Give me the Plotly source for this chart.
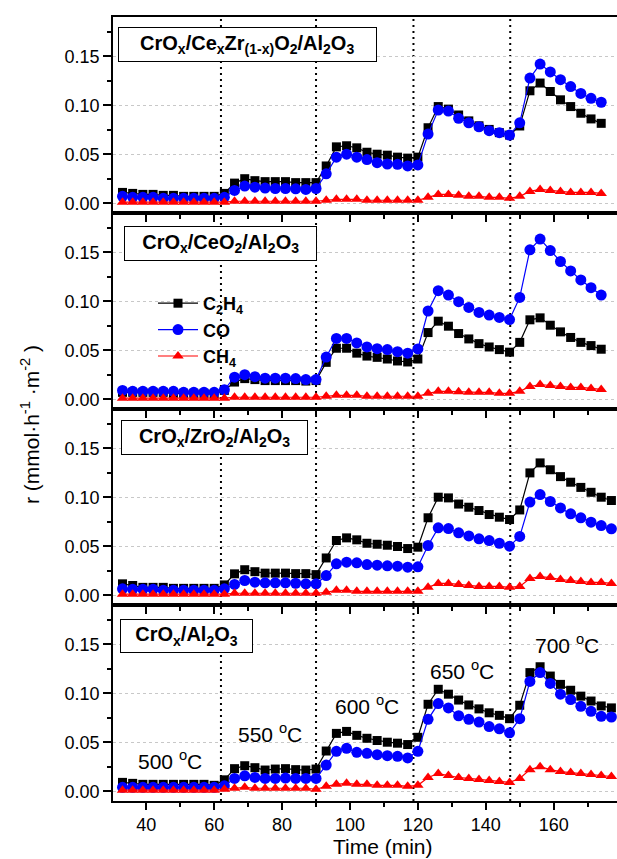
import plotly.graph_objects as go

# ---------------- data ----------------
time_a = [33, 36, 39, 42, 45, 48, 51, 54, 57, 60, 63, 66, 69, 72, 75, 78, 81, 84, 87, 90,
          93, 96, 99, 102, 105, 108, 111, 114, 117, 120, 123, 126, 129, 132, 135, 138, 141, 144, 147,
          150, 153, 156, 159, 162, 165, 168, 171, 174]
time_b = time_a + [177]

# Panel 1: CrOx/CexZr(1-x)O2/Al2O3
p1_c2h4 = [0.011, 0.010, 0.009, 0.009, 0.008, 0.008, 0.007, 0.007, 0.007, 0.007, 0.010,
           0.0205, 0.025, 0.023, 0.022, 0.022, 0.022, 0.021, 0.021, 0.021,
           0.038, 0.0575, 0.0586, 0.0565, 0.052, 0.050, 0.049, 0.047, 0.046, 0.047,
           0.077, 0.0986, 0.096, 0.090, 0.084, 0.079, 0.0753, 0.072, 0.0695,
           0.0788, 0.1147, 0.1226, 0.114, 0.1055, 0.0986, 0.0918, 0.086, 0.0815]
p1_co = [0.007, 0.006, 0.006, 0.006, 0.005, 0.005, 0.005, 0.005, 0.005, 0.005, 0.006,
         0.013, 0.0175, 0.0164, 0.0154, 0.015, 0.015, 0.0147, 0.014, 0.015,
         0.030, 0.047, 0.050, 0.047, 0.0445, 0.0414, 0.040, 0.0397, 0.038, 0.039,
         0.0705, 0.095, 0.094, 0.0866, 0.082, 0.078, 0.074, 0.072, 0.0695,
         0.082, 0.1277, 0.142, 0.134, 0.126, 0.119, 0.112, 0.107, 0.103]
p1_ch4 = [0.001, 0.001, 0.001, 0.001, 0.001, 0.001, 0.001, 0.001, 0.001, 0.001, 0.001,
          0.002, 0.002, 0.002, 0.002, 0.002, 0.002, 0.002, 0.002, 0.002,
          0.003, 0.004, 0.004, 0.004, 0.003, 0.003, 0.003, 0.003, 0.003, 0.003,
          0.006, 0.009, 0.009, 0.008, 0.007, 0.007, 0.006, 0.006, 0.005,
          0.007, 0.012, 0.014, 0.013, 0.012, 0.011, 0.011, 0.011, 0.010]

# Panel 2: CrOx/CeO2/Al2O3
p2_c2h4 = [0.007, 0.007, 0.007, 0.007, 0.007, 0.006, 0.006, 0.006, 0.006, 0.0055, 0.009,
           0.0175, 0.021, 0.020, 0.019, 0.019, 0.019, 0.019, 0.0185, 0.019,
           0.0376, 0.052, 0.052, 0.047, 0.044, 0.0427, 0.041, 0.039, 0.038, 0.041,
           0.068, 0.0796, 0.0745, 0.067, 0.0615, 0.0567, 0.0533, 0.0506, 0.048,
           0.058, 0.081, 0.083, 0.0755, 0.0687, 0.063, 0.058, 0.0547, 0.051]
p2_co = [0.009, 0.008, 0.008, 0.008, 0.008, 0.008, 0.007, 0.007, 0.007, 0.007, 0.0096,
         0.0225, 0.025, 0.023, 0.0215, 0.0215, 0.0215, 0.021, 0.020, 0.020,
         0.043, 0.062, 0.062, 0.0574, 0.0533, 0.0516, 0.0506, 0.0485, 0.047, 0.0513,
         0.090, 0.1107, 0.1063, 0.0995, 0.0936, 0.0885, 0.0858, 0.0834, 0.0813,
         0.1039, 0.1524, 0.1634, 0.1517, 0.1405, 0.1309, 0.1217, 0.1138, 0.1063]
p2_ch4 = [0.001, 0.001, 0.001, 0.001, 0.001, 0.001, 0.001, 0.001, 0.001, 0.001, 0.001,
          0.002, 0.002, 0.002, 0.002, 0.002, 0.002, 0.002, 0.002, 0.002,
          0.003, 0.004, 0.004, 0.004, 0.003, 0.003, 0.003, 0.003, 0.003, 0.003,
          0.006, 0.008, 0.008, 0.0075, 0.007, 0.007, 0.007, 0.006, 0.006,
          0.008, 0.013, 0.015, 0.014, 0.013, 0.012, 0.012, 0.011, 0.010]

# Panel 3: CrOx/ZrO2/Al2O3
p3_c2h4 = [0.0116, 0.0099, 0.008, 0.008, 0.008, 0.007, 0.007, 0.007, 0.007, 0.007, 0.0105,
           0.0218, 0.026, 0.024, 0.0225, 0.0225, 0.0225, 0.022, 0.022, 0.021,
           0.038, 0.0558, 0.0585, 0.0565, 0.053, 0.052, 0.051, 0.0497, 0.0476, 0.049,
           0.079, 0.100, 0.0993, 0.093, 0.0898, 0.0864, 0.0823, 0.0796, 0.0772,
           0.087, 0.1248, 0.135, 0.128, 0.121, 0.1153, 0.110, 0.105, 0.100, 0.0966]
p3_co = [0.0065, 0.006, 0.006, 0.006, 0.005, 0.005, 0.005, 0.005, 0.005, 0.005, 0.0065,
         0.011, 0.015, 0.0133, 0.0126, 0.0126, 0.0126, 0.0122, 0.0116, 0.0116,
         0.020, 0.032, 0.0337, 0.033, 0.0313, 0.0306, 0.030, 0.0296, 0.0286, 0.029,
         0.0507, 0.0687, 0.068, 0.0636, 0.0605, 0.0575, 0.0558, 0.053, 0.050,
         0.060, 0.095, 0.1027, 0.0956, 0.089, 0.083, 0.079, 0.0745, 0.071, 0.0677]
p3_ch4 = [0.001, 0.001, 0.001, 0.001, 0.001, 0.001, 0.001, 0.001, 0.001, 0.001, 0.001,
          0.002, 0.002, 0.002, 0.002, 0.002, 0.002, 0.002, 0.002, 0.002,
          0.003, 0.005, 0.005, 0.004, 0.004, 0.004, 0.004, 0.004, 0.004, 0.004,
          0.008, 0.012, 0.012, 0.011, 0.010, 0.009, 0.009, 0.009, 0.008,
          0.009, 0.017, 0.019, 0.018, 0.016, 0.015, 0.014, 0.013, 0.013, 0.012]

# Panel 4: CrOx/Al2O3
p4_c2h4 = [0.009, 0.008, 0.007, 0.007, 0.007, 0.007, 0.007, 0.007, 0.007, 0.006, 0.0116,
           0.023, 0.026, 0.024, 0.0216, 0.0226, 0.023, 0.022, 0.0216, 0.0226,
           0.041, 0.059, 0.061, 0.057, 0.054, 0.0517, 0.050, 0.049, 0.0476, 0.055,
           0.0887, 0.104, 0.099, 0.093, 0.088, 0.084, 0.080, 0.0774, 0.074,
           0.0877, 0.121, 0.127, 0.1175, 0.109, 0.103, 0.097, 0.092, 0.087, 0.085]
p4_co = [0.004, 0.004, 0.004, 0.004, 0.004, 0.004, 0.004, 0.004, 0.004, 0.004, 0.0055,
         0.013, 0.0157, 0.014, 0.013, 0.013, 0.0134, 0.013, 0.013, 0.013,
         0.0267, 0.0407, 0.0438, 0.0397, 0.0387, 0.0373, 0.0363, 0.0356, 0.034, 0.0407,
         0.0733, 0.0894, 0.085, 0.077, 0.0733, 0.0705, 0.066, 0.0637, 0.0596,
         0.074, 0.112, 0.121, 0.110, 0.099, 0.0935, 0.0866, 0.0815, 0.0764, 0.0757]
p4_ch4 = [0.001, 0.001, 0.001, 0.001, 0.001, 0.001, 0.001, 0.001, 0.001, 0.001, 0.002,
          0.003, 0.004, 0.003, 0.003, 0.003, 0.003, 0.003, 0.003, 0.002,
          0.005, 0.007, 0.008, 0.007, 0.007, 0.006, 0.006, 0.006, 0.005, 0.006,
          0.014, 0.018, 0.016, 0.014, 0.013, 0.012, 0.011, 0.010, 0.009,
          0.013, 0.022, 0.025, 0.022, 0.020, 0.019, 0.018, 0.017, 0.016, 0.015]

panel_labels = ["CrO<sub>x</sub>/Ce<sub>x</sub>Zr<sub>(1-x)</sub>O<sub>2</sub>/Al<sub>2</sub>O<sub>3</sub>",
                "CrO<sub>x</sub>/CeO<sub>2</sub>/Al<sub>2</sub>O<sub>3</sub>",
                "CrO<sub>x</sub>/ZrO<sub>2</sub>/Al<sub>2</sub>O<sub>3</sub>",
                "CrO<sub>x</sub>/Al<sub>2</sub>O<sub>3</sub>"]
series_names = ["C<sub>2</sub>H<sub>4</sub>", "CO", "CH<sub>4</sub>"]
switch_times = [62, 90, 118.7, 147.2]
temp_labels = ["500 <sup>o</sup>C", "550 <sup>o</sup>C", "600 <sup>o</sup>C", "650 <sup>o</sup>C", "700 <sup>o</sup>C"]
temp_x = [47, 76.5, 105, 133, 164]
temp_y = [0.032, 0.059, 0.088, 0.124, 0.150]

panels = [
    (time_a, p1_c2h4, p1_co, p1_ch4),
    (time_a, p2_c2h4, p2_co, p2_ch4),
    (time_b, p3_c2h4, p3_co, p3_ch4),
    (time_b, p4_c2h4, p4_co, p4_ch4),
]

# ---------------- layout geometry ----------------
W, H = 617, 859
ML, MR, MT, MB = 113, 0, 17, 58
PW = W - ML - MR
PH = H - MT - MB

def px_x(p):
    return (p - ML) / PW

def px_y(p):
    return 1 - (p - MT) / PH

FONT = "Liberation Sans, Arial, sans-serif"
colors = ["black", "#0000ff", "#ff0000"]
symbols = ["square", "circle", "triangle-up"]
sizes = [9, 11, 10]

fig = go.Figure()
for i, (t, a, b, c) in enumerate(panels):
    k = "" if i == 0 else str(i + 1)
    for j, ys in enumerate([a, b, c]):
        fig.add_trace(go.Scatter(
            x=t, y=ys, mode="lines+markers", name=series_names[j],
            xaxis="x" + k, yaxis="y" + k,
            line=dict(color=colors[j], width=1.2),
            marker=dict(symbol=symbols[j], size=sizes[j], color=colors[j]),
            legendgroup=series_names[j], showlegend=(i == 1),
        ))

layout = dict(
    width=W, height=H,
    margin=dict(l=ML, r=MR, t=MT, b=MB),
    paper_bgcolor="white", plot_bgcolor="white",
    font=dict(family=FONT, size=18, color="black"),
    showlegend=True,
    legend=dict(x=px_x(153), y=px_y(285), xanchor="left", yanchor="top",
                bgcolor="rgba(0,0,0,0)", borderwidth=0, itemwidth=40,
                font=dict(family=FONT, size=18, color="black", weight="bold"),
                tracegroupgap=0),
)
xr = [30.2, 178.65]
for i in range(4):
    k = "" if i == 0 else str(i + 1)
    d0 = 0.75 - 0.25 * i
    layout["xaxis" + k] = dict(
        domain=[0, 1], anchor="y" + k, range=xr,
        showline=True, linecolor="black", linewidth=1.5, mirror=True,
        ticks="outside", ticklen=7, tickwidth=1.5, tickcolor="black",
        tick0=0, dtick=20, showgrid=False, zeroline=False,
        showticklabels=(i == 3),
        tickfont=dict(size=18),
        minor=dict(ticks="outside", ticklen=4, tickwidth=1.5, tickcolor="black", dtick=10, showgrid=False),
    )
    layout["yaxis" + k] = dict(
        domain=[d0, d0 + 0.25], anchor="x" + k, range=[-0.01, 0.19],
        showline=True, linecolor="black", linewidth=1.5, mirror=False,
        ticks="outside", ticklen=8, tickwidth=1.5, tickcolor="black",
        tick0=0, dtick=0.05, tickformat=".2f",
        showgrid=True, gridcolor="#c8c8c8", gridwidth=1, griddash="dot",
        zeroline=False, tickfont=dict(size=18),
        minor=dict(ticks="outside", ticklen=4, tickwidth=1.5, tickcolor="black", dtick=0.025, showgrid=False),
    )
fig.update_layout(**layout)

# vertical dotted separators
for ts in switch_times:
    fig.add_shape(type="line", xref="x", yref="paper", x0=ts, x1=ts, y0=0, y1=1,
                  line=dict(color="black", width=2, dash="2px,4px"), layer="between")

# panel label boxes (pixel boxes: left, right, top, bottom)
boxes = [(118.5, 377, 27.3, 62.7), (123.6, 317, 226, 261), (120.7, 308, 420, 455), (120, 253, 619, 653)]
for lab, (l, r, t, b) in zip(panel_labels, boxes):
    fig.add_annotation(
        xref="paper", yref="paper", x=px_x((l + r) / 2), y=px_y((t + b) / 2),
        xanchor="center", yanchor="middle", text="<b>" + lab + "</b>", showarrow=False,
        width=r - l - 2, height=b - t - 2, borderpad=0, borderwidth=1,
        bordercolor="black", bgcolor="white",
        font=dict(family=FONT, size=20, color="black"),
    )

# temperature labels in bottom panel
for txt, tx, ty in zip(temp_labels, temp_x, temp_y):
    fig.add_annotation(xref="x4", yref="y4", x=tx, y=ty, text=txt, showarrow=False,
                       xanchor="center", yanchor="middle",
                       font=dict(family=FONT, size=21, color="black"))

# axis titles
fig.add_annotation(xref="paper", yref="paper", x=px_x(30), y=px_y(425),
                   text="r (mmol·h<sup>-1</sup> ·m<sup>-2</sup> )", textangle=-90,
                   showarrow=False, xanchor="center", yanchor="middle",
                   font=dict(family=FONT, size=21, color="black"))
fig.add_annotation(xref="paper", yref="paper", x=px_x(383), y=px_y(846),
                   text="Time (min)", showarrow=False, xanchor="center", yanchor="middle",
                   font=dict(family=FONT, size=21, color="black"))

fig.write_html("out.html", config={"displayModeBar": False},
               post_script="document.body.style.margin='0';document.body.style.overflow='hidden';")
